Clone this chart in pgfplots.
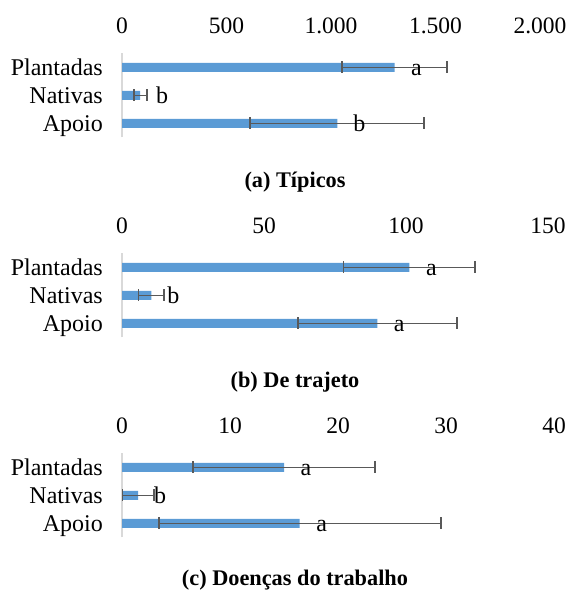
\documentclass[border=0pt]{standalone}
\usepackage{pgfplots}
\pgfplotsset{compat=1.18}
\usepackage{fontspec}
\setmainfont{Liberation Serif}
\definecolor{barblue}{HTML}{5B9BD5}
\definecolor{errgray}{HTML}{595959}
\definecolor{axgray}{HTML}{D9D9D9}
\pgfplotsset{
  panel/.style={
    scale only axis,
    height=84pt,
    ymin=-0.5, ymax=2.5,
    ytick={0,1,2},
    yticklabels={Apoio,Nativas,Plantadas},
    axis x line*=top,
    axis y line*=left,
    x axis line style={draw=none},
    y axis line style={draw=axgray, line width=1.3pt},
    major tick length=0pt,
    xmin=0,
    clip=false,
    unbounded coords=jump,
    /pgf/number format/assume math mode=true,
    xticklabel style={font=\fontsize{23.5}{26}\selectfont, anchor=base, inner sep=0pt, yshift=20pt},
    yticklabel style={font=\fontsize{24}{26}\selectfont, anchor=base east, inner sep=0pt, xshift=-19pt, yshift=-8pt},
  },
  barplot/.style={
    xbar, bar width=9pt, bar shift=0pt, fill=barblue, draw=none,
    nodes near coords={\pgfplotspointmeta},
    point meta=explicit symbolic,
    every node near coord/.style={anchor=base, inner sep=0pt, xshift=22pt, yshift=-8.5pt, font=\fontsize{24}{26}\selectfont, text=black},
  },
  errplot/.style={
    draw=errgray, line width=1.8pt, mark=|, mark size=6pt,
    mark options={solid, draw=errgray, line width=1.8pt},
  },
}
\begin{document}
\begin{tikzpicture}[x=1pt,y=1pt]
\useasboundingbox (0,0) rectangle (569,591);
% mean values and letters
\pgfplotstableread{
v c l
1030 0 b
87 1 b
1304 2 a
}\tA
\pgfplotstableread{
v c l
89.9 0 a
10.3 1 b
101.2 2 a
}\tB
\pgfplotstableread{
v c l
16.45 0 a
1.5 1 b
15.0 2 a
}\tC
% error bar ends (mean - error, mean + error)
\pgfplotstableread{
x c
614 0
1446 0
nan nan
56 1
118 1
nan nan
1052 2
1556 2
}\eA
\pgfplotstableread{
x c
61.9 0
117.9 0
nan nan
5.8 1
14.8 1
nan nan
78.0 2
124.4 2
}\eB
\pgfplotstableread{
x c
3.4 0
29.5 0
nan nan
0.05 1
2.95 1
nan nan
6.55 2
23.45 2
}\eC
% (a)
\begin{axis}[panel, at={(122pt,453.5pt)}, anchor=south west, width=418pt,
  xmax=2000, xtick={0,500,1000,1500,2000}, xticklabels={0,500,1.000,1.500,2.000}]
\addplot[barplot] table[x=v, y=c, meta=l] {\tA};
\addplot[errplot] table[x=x, y=c] {\eA};
\end{axis}
% (b)
\begin{axis}[panel, at={(122pt,253.5pt)}, anchor=south west, width=426pt,
  xmax=150, xtick={0,50,100,150}, xticklabels={0,50,100,150}]
\addplot[barplot] table[x=v, y=c, meta=l] {\tB};
\addplot[errplot] table[x=x, y=c] {\eB};
\end{axis}
% (c)
\begin{axis}[panel, at={(122pt,53.5pt)}, anchor=south west, width=432pt,
  xmax=40, xtick={0,10,20,30,40}, xticklabels={0,10,20,30,40}]
\addplot[barplot] table[x=v, y=c, meta=l] {\tC};
\addplot[errplot] table[x=x, y=c] {\eC};
\end{axis}
\node[font=\bfseries\fontsize{22.3}{26}\selectfont] at (295,409) {(a) Típicos};
\node[font=\bfseries\fontsize{22.3}{26}\selectfont] at (295,209) {(b) De trajeto};
\node[font=\bfseries\fontsize{22.3}{26}\selectfont] at (295,11) {(c) Doenças do trabalho};
\end{tikzpicture}
\end{document}
